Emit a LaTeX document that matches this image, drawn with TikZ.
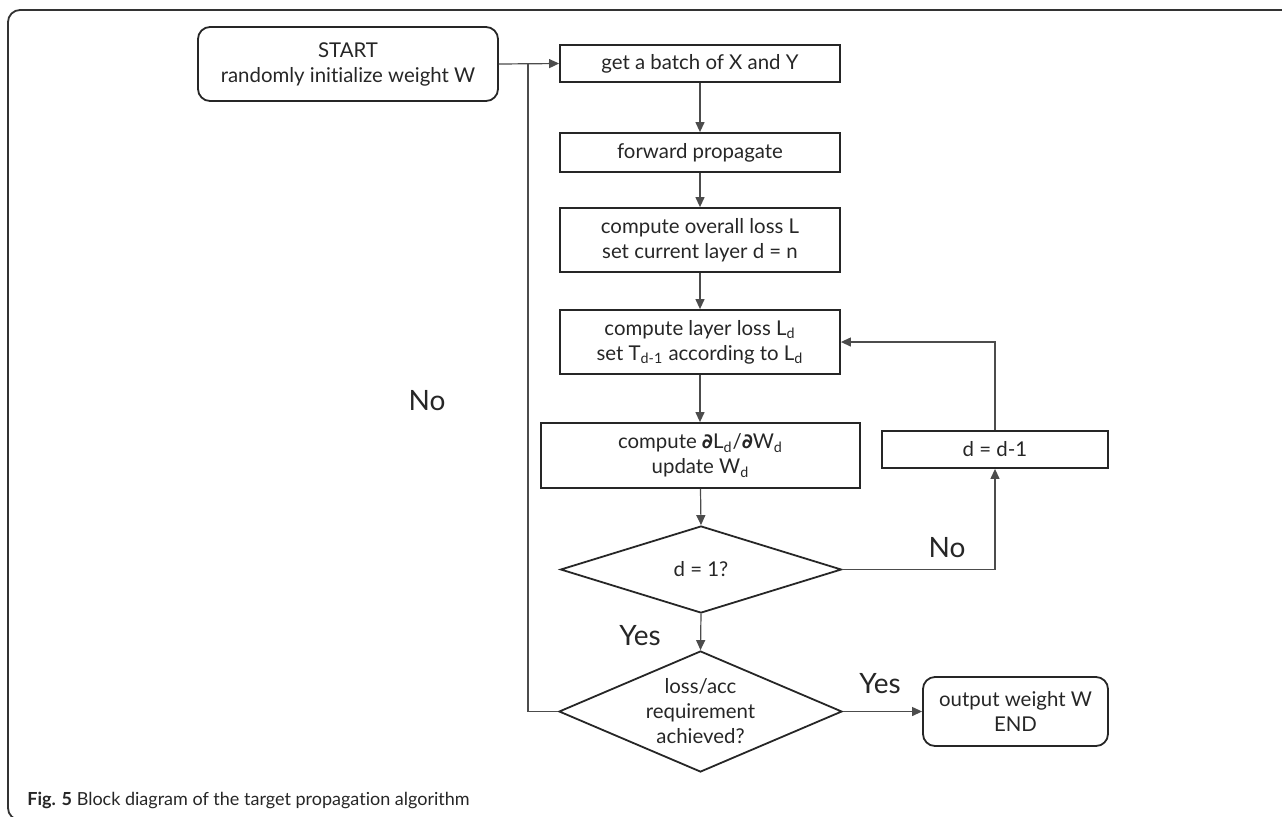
\documentclass[tikz,border=0pt]{standalone}
\usepackage{fontspec}
\setmainfont{Lato}[Ligatures=NoCommon]
\newfontfamily\symfont{DejaVu Sans}
\usetikzlibrary{arrows.meta,shapes.geometric}
\begin{document}
\begin{tikzpicture}[x=0.5pt,y=-0.5pt,
  txt/.style={font=\fontsize{10.2}{12.5}\selectfont, align=center, text=black!85},
  box/.style={txt, draw=black!85, line width=0.9pt, inner sep=0pt},
  rbox/.style={box, rounded corners=6pt},
  dia/.style={draw=black!85, line width=0.9pt, diamond, inner sep=0pt},
  conn/.style={draw=black!70, line width=0.6pt, -{Triangle[length=5pt,width=4.5pt]}},
  plain/.style={draw=black!70, line width=0.6pt},
  lbl/.style={font=\fontsize{14}{16}\selectfont, text=black!85, inner sep=0pt},
  ]
\useasboundingbox (0,0) rectangle (1282,816);
\begin{scope}
\clip (0,0) rectangle (1282,816);
\draw[draw=black!80, line width=0.9pt, rounded corners=6pt] (8,10) rectangle (1300,820);
\end{scope}
% nodes
\node[rbox, minimum width=150pt, minimum height=37pt] (start) at (348,64) {START\\randomly initialize weight W};
\node[box, minimum width=140pt, minimum height=18.5pt] (get) at (700,63.5) {get a batch of X and Y};
\node[box, minimum width=140pt, minimum height=19.5pt] (fwd) at (700,152.5) {forward propagate};
\node[box, minimum width=140pt, minimum height=32pt] (loss) at (700,240) {compute overall loss L\\set current layer d = n};
\node[box, minimum width=140pt, minimum height=32pt] (layer) at (700,342) {compute layer loss L\textsubscript{d}\\set T\textsubscript{d-1} according to L\textsubscript{d}};
\node[box, minimum width=159.5pt, minimum height=32.5pt] (grad) at (700.5,455.5) {compute {\symfont\bfseries ∂}L\textsubscript{d}/{\symfont\bfseries ∂}W\textsubscript{d}\\update W\textsubscript{d}};
\node[box, minimum width=113pt, minimum height=18.5pt] (dd1) at (995,449.5) {d = d-1};
\node[dia, minimum width=140.5pt, minimum height=43.5pt] (d1) at (701,569.5) {};
\node[txt] (d1t) at (d1) {d = 1?};
\node[dia, minimum width=141.5pt, minimum height=60.5pt] (d2) at (700.5,711.5) {};
\node[txt] (d2t) at (d2) {loss/acc\\requirement\\achieved?};
\node[rbox, minimum width=92.5pt, minimum height=34.5pt] (out) at (1015.5,711.5) {output weight W\\END};
\coordinate (j) at (528,63.5);
% connectors
\draw[conn] (start.east) -- (get.west);
\draw[conn] (get) -- (fwd);
\draw[conn] (fwd) -- (loss);
\draw[conn] (loss) -- (layer);
\draw[conn] (layer.south) -- (layer.south |- grad.north);
\draw[conn] (grad.south) -- (d1.north);
\draw[conn] (d1.east) -| (dd1.south);
\draw[conn] (dd1.north) |- (layer.east);
\draw[conn] (d1.south) -- (d2.north);
\draw[conn] (d2.east) -- (out.west);
\draw[plain] (d2.west) -| (j);
% labels
\node[lbl] (no1) at (947,548) {No};
\node[lbl] (yes1) at (640,636) {Yes};
\node[lbl] (yes2) at (880,684) {Yes};
\node[lbl] (no2) at (427,401) {No};
\node[anchor=base west, inner sep=0pt, font=\fontsize{9}{11}\selectfont, text=black!85] (cap) at (27,805) {\textbf{Fig. 5} Block diagram of the target propagation algorithm};
\end{tikzpicture}
\end{document}
